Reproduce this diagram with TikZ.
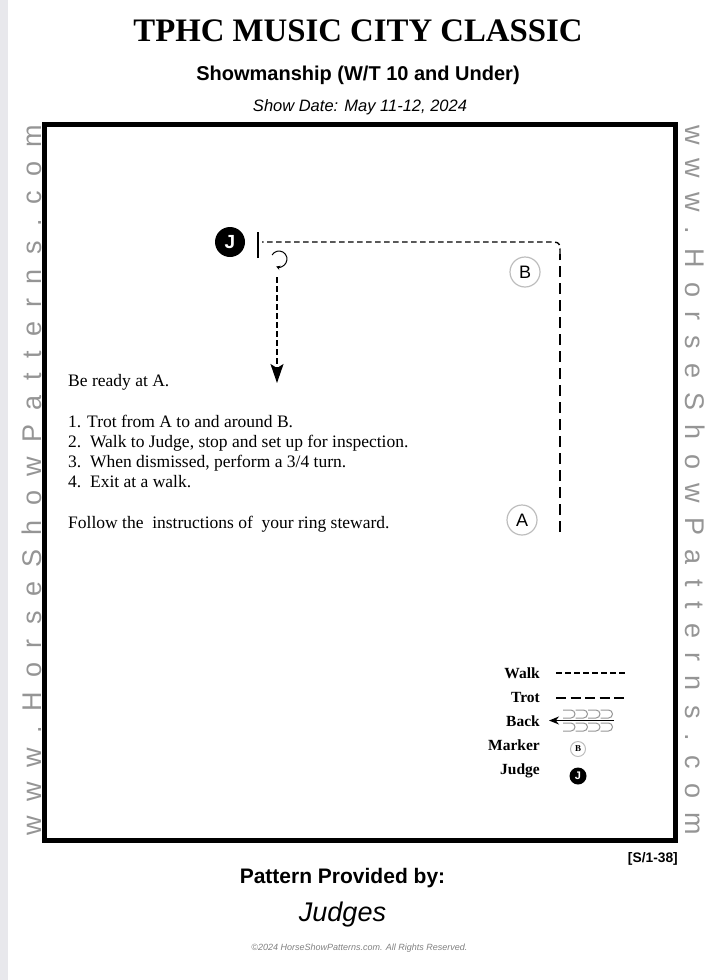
\documentclass[tikz,border=0pt]{standalone}
\usepackage{fontspec}
\setmainfont{Liberation Serif}
\setsansfont{Liberation Sans}
\usetikzlibrary{arrows.meta,positioning}

\definecolor{siteGray}{HTML}{959595}
\definecolor{ringGray}{HTML}{BDBDBD}
\definecolor{stripGray}{HTML}{E8E8EC}

\newcommand\siteurl{w\hfil w\hfil w\hfil .\hfil H\hfil o\hfil r\hfil s\hfil e\hfil S\hfil h\hfil o\hfil w\hfil P\hfil a\hfil t\hfil t\hfil e\hfil r\hfil n\hfil s\hfil .\hfil c\hfil o\hfil m}

\begin{document}
\begin{tikzpicture}[
  x=1pt,y=-1pt,
  every node/.style={inner sep=0pt},
  walk/.style={line width=1.4pt,dash pattern=on 5.5pt off 3.5pt},
  trot/.style={line width=1.5pt,dash pattern=on 11pt off 6pt},
  marker/.style={draw=ringGray,line width=1.2pt,circle,minimum size=30pt,
    font=\sffamily\fontsize{18}{18}\selectfont},
  judge/.style={fill=black,circle,minimum size=30pt,text=white,
    font=\sffamily\bfseries\fontsize{19}{19}\selectfont},
  rule/.style={anchor=base west,font=\fontsize{17.5}{17.5}\selectfont},
  key/.style={anchor=base east,font=\bfseries\fontsize{15.5}{15.5}\selectfont},
  url/.style={anchor=base,text=siteGray,font=\sffamily\fontsize{27}{27}\selectfont},
  backloop/.style={siteGray,line width=1pt}
]
  \useasboundingbox (0,0) rectangle (709,980);
  \fill[stripGray] (0,0) rectangle (8,980);

  % header
  \node[anchor=base,font=\bfseries\fontsize{32.8}{33}\selectfont] (title) at (358,41.7) {TPHC MUSIC CITY CLASSIC};
  \node[anchor=base,font=\sffamily\bfseries\fontsize{20}{20}\selectfont] (class) at (358,80) {Showmanship (W/T 10 and Under)};
  \node[anchor=base,font=\sffamily\itshape\fontsize{16.5}{16.5}\selectfont] (date) at (360,111.7) {Show Date: May 11-12, 2024};

  % arena
  \draw[line width=5pt] (44.5,124.5) rectangle (675,840);
  \node[url,rotate=90] (urlleft) at (41,480) {\makebox[710pt][s]{\siteurl}};
  \node[url,rotate=-90] (urlright) at (685,480) {\makebox[710pt][s]{\siteurl}};

  % pattern
  \node[judge] (J) at (230,242) {J};
  \node[marker] (B) at (525,272) {B};
  \node[marker] (A) at (522,520) {A};
  \coordinate (start) at (560,532);
  \coordinate (corner) at (560,254);
  \coordinate (stop) at (258,242);
  \coordinate (turn) at (279,259);
  \coordinate (leave) at (277,277);
  \coordinate (exit) at (277,383);

  \draw[trot] (start) -- (corner);
  \draw[walk] (corner) .. controls (560,242) .. (548,242) -- ([xshift=4pt]stop);
  \draw[line width=1.5pt] ([yshift=-16pt]stop) -- ([yshift=10pt]stop);
  \draw[line width=1pt,-{Stealth[length=4pt,width=4.5pt]}] (turn) ++(-150:8) arc[start angle=-150,end angle=110,radius=8];
  \draw[walk,-{Stealth[length=19pt,width=13pt,inset=4pt]}] (leave) -- (exit);

  % instructions
  \node[rule] (ready) at (68,386) {Be ready at A.};
  \node[rule,below=41pt of ready.base west,anchor=base west] (s1) {1. Trot from A to and around B.};
  \node[rule,below=20pt of s1.base west,anchor=base west] (s2) {2.\ \ Walk to Judge, stop and set up for inspection.};
  \node[rule,below=20pt of s2.base west,anchor=base west] (s3) {3.\ \ When dismissed, perform a 3/4 turn.};
  \node[rule,below=20pt of s3.base west,anchor=base west] (s4) {4.\ \ Exit at a walk.};
  \node[rule,below=41pt of s4.base west,anchor=base west] (steward) {Follow the\ \ instructions of\ \ your ring steward.};

  % legend
  \node[key] (kwalk) at (540,678) {Walk};
  \node[key,below=24pt of kwalk.base east,anchor=base east] (ktrot) {Trot};
  \node[key,below=24pt of ktrot.base east,anchor=base east] (kback) {Back};
  \node[key,below=24pt of kback.base east,anchor=base east] (kmark) {Marker};
  \node[key,below=24pt of kmark.base east,anchor=base east] (kjudge) {Judge};

  \draw[walk] (556,673) -- (626,673);
  \draw[trot,dash pattern=on 10pt off 4.5pt] (556,698) -- (626,698);
  \foreach \i in {0,...,3} {
    \draw[backloop] (563+12.5*\i,710) -- ++(8,0) arc[start angle=-90,end angle=90,radius=4] -- ++(-8,0);
    \draw[backloop] (563+12.5*\i,723) -- ++(8,0) arc[start angle=-90,end angle=90,radius=4] -- ++(-8,0);
  }
  \coordinate (backfrom) at (614,720.5);
  \coordinate (backto) at (549,720.5);
  \draw[line width=1.2pt,-{Stealth[length=10pt,width=8pt]}] (backfrom) -- (backto);
  \node[draw=ringGray,line width=1pt,circle,minimum size=15pt,font=\bfseries\fontsize{9}{9}\selectfont] (kB) at (578,749) {B};
  \node[fill=black,circle,minimum size=17pt,text=white,font=\sffamily\bfseries\fontsize{11}{11}\selectfont] (kJ) at (578,776) {J};

  % footer
  \node[anchor=base east,font=\sffamily\bfseries\fontsize{13.8}{14}\selectfont] (code) at (678,862) {[S/1-38]};
  \node[anchor=base,font=\sffamily\bfseries\fontsize{21}{21}\selectfont] (provided) at (342.5,883) {Pattern Provided by:};
  \node[anchor=base,font=\sffamily\itshape\fontsize{27}{27}\selectfont] (judges) at (342.5,921) {Judges};
  \node[anchor=base,text=gray,font=\sffamily\itshape\fontsize{9}{9}\selectfont] (copy) at (359.5,950) {©2024 HorseShowPatterns.com. All Rights Reserved.};
\end{tikzpicture}
\end{document}
